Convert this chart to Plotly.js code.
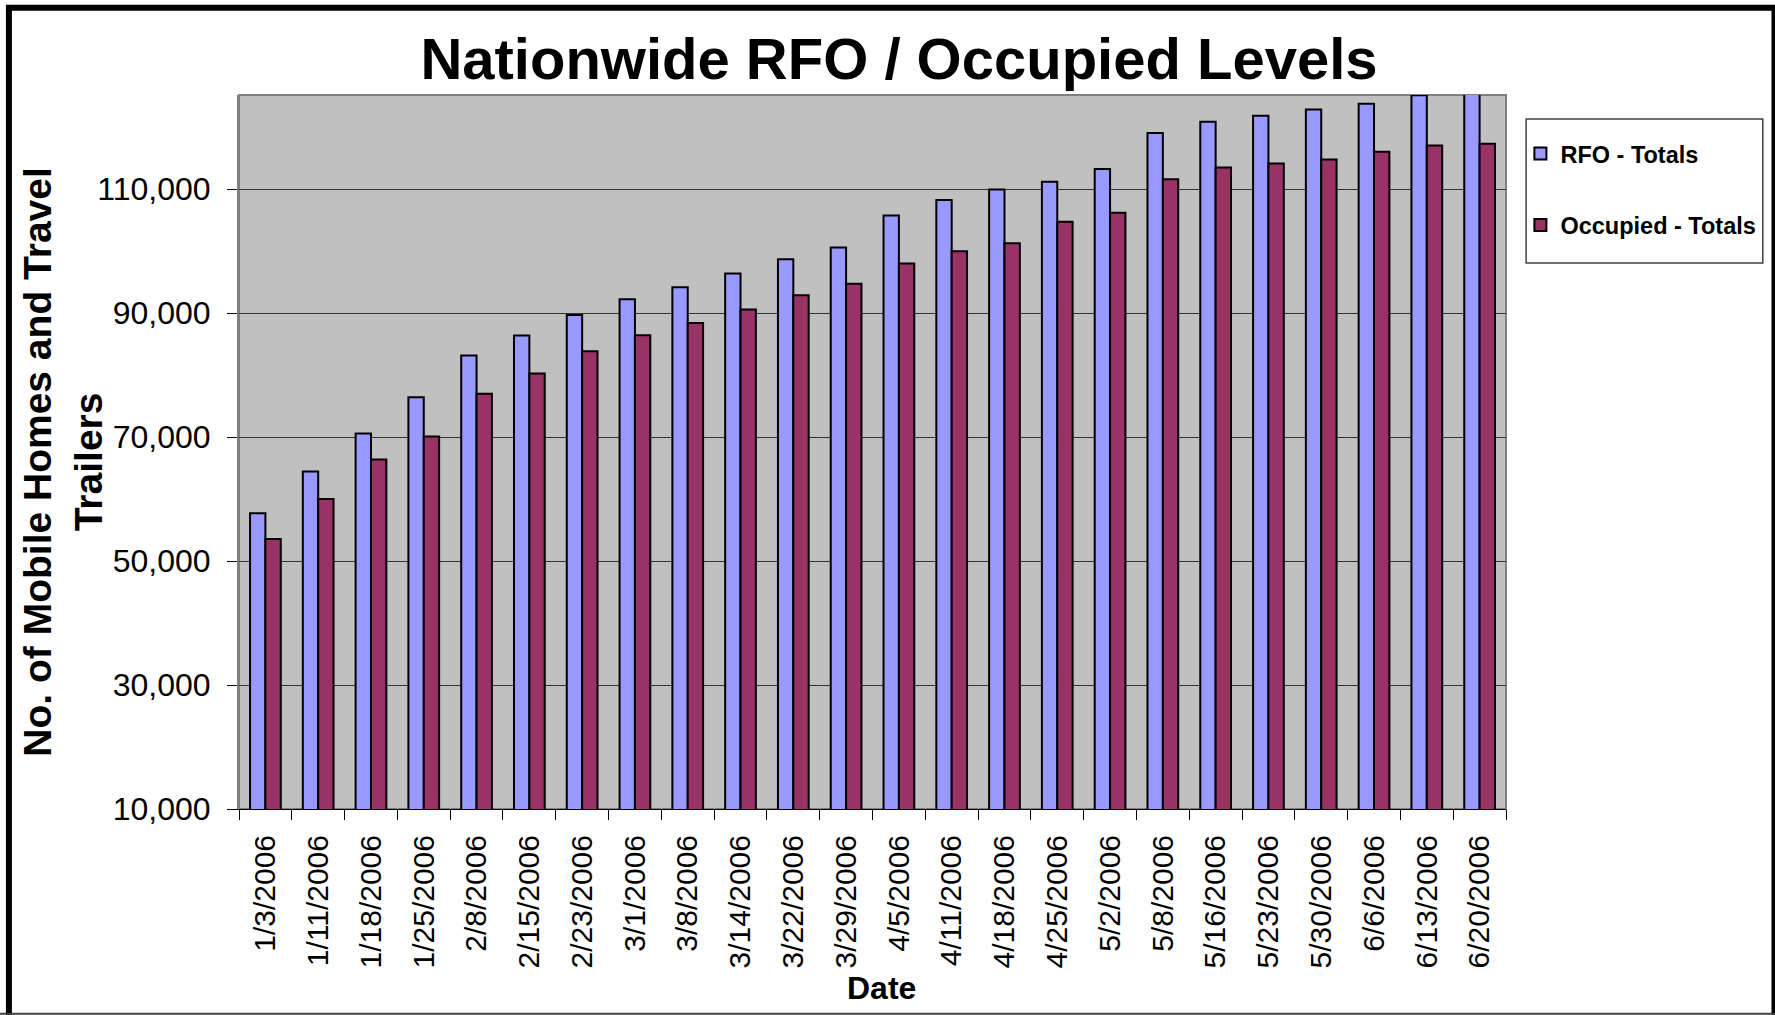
<!DOCTYPE html>
<html>
<head>
<meta charset="utf-8">
<script src="https://cdn.plot.ly/plotly-3.0.1.min.js"></script>
<style>
  html, body { margin: 0; padding: 0; background: #ffffff; }
  #chart { width: 1775px; height: 1015px; }
</style>
</head>
<body>
<div id="chart"></div>
<script>
// ---- Data ----
const dates = [
  "1/3/2006", "1/11/2006", "1/18/2006", "1/25/2006", "2/8/2006", "2/15/2006",
  "2/23/2006", "3/1/2006", "3/8/2006", "3/14/2006", "3/22/2006", "3/29/2006",
  "4/5/2006", "4/11/2006", "4/18/2006", "4/25/2006", "5/2/2006", "5/8/2006",
  "5/16/2006", "5/23/2006", "5/30/2006", "6/6/2006", "6/13/2006", "6/20/2006"
];
const rfoTotals = [
  57700, 64450, 70600, 76450, 83150, 86400,
  89700, 92250, 94200, 96400, 98700, 100600,
  105750, 108250, 109950, 111200, 113250, 119050,
  120900, 121850, 122850, 123800, 125150, 125750
];
const occupiedTotals = [
  53550, 60000, 66400, 70100, 77000, 80250,
  83850, 86450, 88400, 90600, 92900, 94750,
  98000, 100000, 101300, 104750, 106200, 111600,
  113500, 114150, 114800, 116050, 117050, 117350
];
const seriesNames = ["RFO - Totals", "Occupied - Totals"];
const titleText = "Nationwide RFO / Occupied Levels";
const yTitleText = "No. of Mobile Homes and Travel<br>Trailers";
const xTitleText = "Date";

// ---- Layout geometry (pixels of the 1775x1015 canvas) ----
const W = 1775, H = 1015;
const PL = 239, PR = 1505.6, PT = 95.3, PB = 809.3;
const pw = PR - PL, ph = PB - PT;
const px = p => (p - PL) / pw;      // pixel x -> paper x
const py = p => (PB - p) / ph;      // pixel y -> paper y

const FONT = "Liberation Sans, Arial, Helvetica, sans-serif";

const traces = [
  {
    type: "bar",
    name: seriesNames[0],
    x: dates,
    y: rfoTotals,
    legendgroup: "a",
    marker: { color: "#9999FF", line: { color: "#000000", width: 2 } },
    hoverinfo: "x+y+name"
  },
  {
    type: "bar",
    name: seriesNames[1],
    x: dates,
    y: occupiedTotals,
    legendgroup: "b",
    marker: { color: "#993366", line: { color: "#000000", width: 2 } },
    hoverinfo: "x+y+name"
  }
];

const layout = {
  width: W,
  height: H,
  paper_bgcolor: "#ffffff",
  plot_bgcolor: "#C0C0C0",
  font: { family: FONT, color: "#000000" },
  margin: { l: PL, r: W - PR, t: PT, b: H - PB, pad: 0 },
  barmode: "group",
  bargap: 0.418,
  bargroupgap: 0,
  showlegend: true,
  title: {
    text: titleText,
    font: { family: FONT, size: 58, weight: "bold", color: "#000000" },
    xref: "container",
    yref: "container",
    x: 899 / W,
    xanchor: "center",
    y: 1 - 58.5 / H,
    yanchor: "middle"
  },
  xaxis: {
    type: "category",
    tickmode: "linear",
    tick0: 0,
    dtick: 1,
    tickangle: -90,
    tickson: "boundaries",
    ticks: "outside",
    ticklen: 10,
    tickwidth: 1,
    tickcolor: "#000000",
    tickfont: { family: FONT, size: 30, color: "#000000" },
    ticklabelstandoff: 13,
    showline: true,
    linecolor: "#000000",
    linewidth: 1,
    showgrid: false,
    zeroline: false,
    automargin: false,
    fixedrange: true
  },
  yaxis: {
    range: [10000, 125200],
    tickmode: "linear",
    tick0: 10000,
    dtick: 20000,
    tickformat: ",d",
    ticks: "outside",
    ticklen: 10,
    tickwidth: 1,
    tickcolor: "#000000",
    tickfont: { family: FONT, size: 32, color: "#000000" },
    ticklabelstandoff: 10,
    showline: true,
    linecolor: "#808080",
    linewidth: 2,
    showgrid: true,
    gridcolor: "#333333",
    gridwidth: 1,
    zeroline: false,
    automargin: false,
    fixedrange: true
  },
  legend: {
    x: px(1520),
    y: py(132),
    xanchor: "left",
    yanchor: "top",
    bgcolor: "rgba(0,0,0,0)",
    borderwidth: 0,
    traceorder: "grouped",
    tracegroupgap: 38,
    font: { family: FONT, size: 23.5, weight: "bold", color: "#000000" }
  },
  annotations: [
    {
      text: yTitleText,
      textangle: -90,
      xref: "paper", yref: "paper",
      x: px(63), y: py(462),
      xanchor: "center", yanchor: "middle",
      showarrow: false,
      font: { family: FONT, size: 39, weight: "bold", color: "#000000" }
    },
    {
      text: xTitleText,
      xref: "paper", yref: "paper",
      x: px(881), y: py(988),
      xanchor: "center", yanchor: "middle",
      showarrow: false,
      font: { family: FONT, size: 32, weight: "bold", color: "#000000" }
    }
  ],
  shapes: [
    // plot area border (gray)
    {
      type: "rect", xref: "paper", yref: "paper",
      x0: 0, x1: 1, y0: 0, y1: 1,
      line: { color: "#808080", width: 2 },
      fillcolor: "rgba(0,0,0,0)",
      layer: "below"
    },
    // legend box
    {
      type: "rect", xref: "paper", yref: "paper",
      x0: px(1525.7), x1: px(1762.3), y0: py(263.3), y1: py(119.3),
      line: { color: "#404040", width: 1.5 },
      fillcolor: "rgba(0,0,0,0)",
      layer: "above"
    },
    // outer chart frame: thick black left / top / right edges
    {
      type: "path", xref: "paper", yref: "paper",
      path: "M " + px(9) + " " + py(1020) + " L " + px(9) + " " + py(8) +
            " L " + px(1774) + " " + py(8) + " L " + px(1774) + " " + py(1020),
      line: { color: "#000000", width: 6 },
      layer: "above"
    },
    // thin bottom edge
    {
      type: "line", xref: "paper", yref: "paper",
      x0: px(0), x1: px(1775), y0: py(1014), y1: py(1014),
      line: { color: "#404040", width: 2 },
      layer: "above"
    }
  ]
};

Plotly.newPlot("chart", traces, layout, { displayModeBar: false, staticPlot: true });
</script>
</body>
</html>
